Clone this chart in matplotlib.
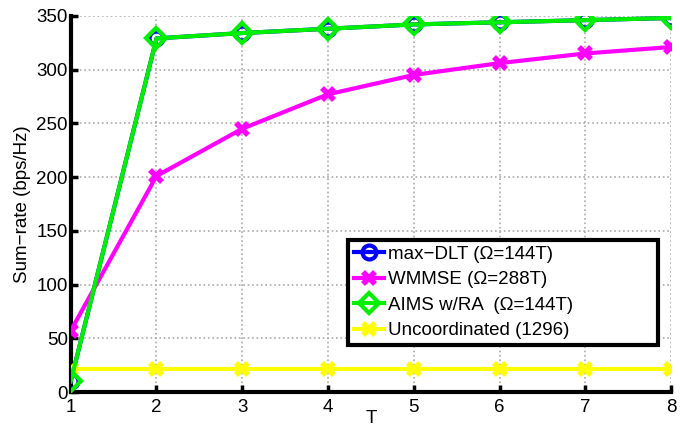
import matplotlib
matplotlib.use("Agg")
import matplotlib.pyplot as plt

plt.rcParams['font.family'] = ['Liberation Sans', 'DejaVu Sans']

T = [1, 2, 3, 4, 5, 6, 7, 8]
max_dlt = [10, 329, 334, 338, 342, 344, 346, 348]
wmmse = [57, 201, 245, 277, 295, 306, 315, 321]
aims_ra = [10, 329, 334, 338, 342, 344, 346, 348]
uncoord = [21, 21, 21, 21, 21, 21, 21, 21]

labels = ['max\u2212DLT (\u03a9=144T)', 'WMMSE (\u03a9=288T)',
          'AIMS w/RA  (\u03a9=144T)', 'Uncoordinated (1296)']

fig = plt.figure(figsize=(6.8, 4.28), dpi=100)
ax = fig.add_axes([0.104, 0.084, 0.883, 0.879])

lw = 3
ax.plot(T, max_dlt, color='#0000ff', lw=lw, marker='o', ms=10, mfc='none',
        mew=3, label=labels[0], zorder=3)
ax.plot(T, wmmse, color='#ff00ff', lw=lw, marker='x', ms=9, mew=4,
        label=labels[1], zorder=3)
ax.plot(T, aims_ra, color='#00ee00', lw=lw, marker='D', ms=10, mfc='none',
        mew=3, label=labels[2], zorder=4)
ax.plot(T, uncoord, color='#ffff00', lw=lw, marker='x', ms=9, mew=4,
        label=labels[3], zorder=3)

ax.set_xlim(1, 8)
ax.set_ylim(0, 350)
ax.set_xticks(T)
ax.set_yticks(range(0, 351, 50))
ax.grid(True, color='#aaaaaa', linestyle=':', linewidth=1.2)
ax.set_axisbelow(True)

for s in ['top', 'right']:
    ax.spines[s].set_visible(False)
for s in ['left', 'bottom']:
    ax.spines[s].set_linewidth(3)
ax.tick_params(direction='in', length=5, width=2.5, labelsize=13.5)
ax.tick_params(axis='x', pad=5)
ax.tick_params(axis='y', pad=2)

ax.set_xlabel('T', fontsize=13.5, labelpad=-4)
ax.set_ylabel('Sum\u2212rate (bps/Hz)', fontsize=13.5, labelpad=4)

leg = ax.legend(loc='lower left', bbox_to_anchor=(0.462, 0.125, 0.516, 0.32),
                mode='expand', fontsize=13.5,
                handlelength=1.6, handletextpad=0.25, borderpad=0.3,
                labelspacing=0.45, fancybox=False, framealpha=1,
                edgecolor='black', borderaxespad=0)
leg.get_frame().set_linewidth(3)

fig.savefig('out.png', dpi=100)
